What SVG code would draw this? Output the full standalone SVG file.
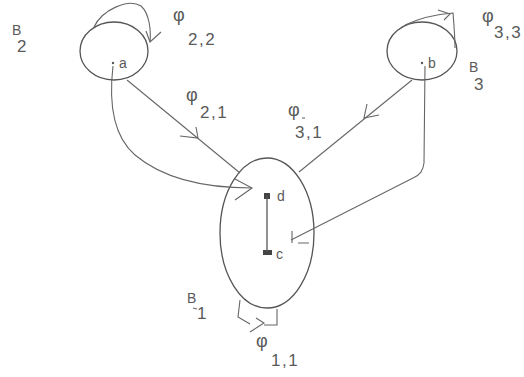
<svg xmlns="http://www.w3.org/2000/svg" width="524" height="377" viewBox="0 0 524 377">
<style>
.n{fill:none;stroke:#555;stroke-width:1.3}
.e{fill:none;stroke:#666;stroke-width:1.1}
.t{font-family:"Liberation Sans",Arial,sans-serif;fill:#5a5a5a;font-size:17px;letter-spacing:1.5px}
.s{font-family:"Liberation Sans",Arial,sans-serif;fill:#5a5a5a;font-size:14px}
.p{font-family:"Liberation Sans",Arial,sans-serif;fill:#5a5a5a;font-size:18px}
</style>
<rect width="524" height="377" fill="#fff"/>
<g id="node-a">
<ellipse class="n" cx="114" cy="51" rx="34" ry="29"/>
<circle cx="113" cy="63" r="1.2" fill="#555"/>
<text class="s" x="119" y="68" font-size="15">a</text>
</g>
<g id="node-b">
<ellipse class="n" cx="422" cy="51" rx="35" ry="29"/>
<circle cx="422" cy="63" r="1.2" fill="#555"/>
<text class="s" x="428" y="68" font-size="16">b</text>
</g>
<g id="node-B1">
<ellipse class="n" cx="267" cy="233" rx="47" ry="75"/>
<rect x="264" y="193" width="6" height="6" fill="#444"/>
<rect x="263" y="250" width="9" height="5" fill="#444"/>
<line class="n" x1="267" y1="196" x2="267" y2="252" stroke-width="1.6"/>
<text class="s" x="277" y="201" font-size="17">d</text>
<text class="s" x="276" y="259" font-size="15">c</text>
</g>
<g id="labels">
<text class="s" x="12" y="35">B</text>
<text class="t" x="17" y="52">2</text>
<text class="p" x="173" y="21">φ</text>
<text class="t" x="188" y="45">2,2</text>
<text class="p" x="186" y="101">φ</text>
<text class="t" x="200" y="118">2,1</text>
<text class="p" x="288" y="116">φ</text>
<line class="e" x1="302" y1="118" x2="305" y2="118"/>
<text class="t" x="295" y="138">3,1</text>
<text class="p" x="482" y="22">φ</text>
<text class="t" x="494" y="38">3,3</text>
<text class="s" x="469" y="72">B</text>
<text class="t" x="474" y="90">3</text>
<text class="s" x="187" y="303">B</text>
<line class="e" x1="193" y1="308" x2="197" y2="309"/>
<text class="t" x="197" y="319">1</text>
<text class="p" x="256" y="347">φ</text>
<text class="t" x="271" y="366">1,1</text>
</g>
<g id="connectors">
<path class="e" d="M94,27 C102,10 128,-2 141,6 C150,14 151,32 150,42"/>
<path class="e" d="M146,31 L150,42 L161,32"/>
<path class="e" d="M405,25 C420,18 440,14 453,13 C454,25 455,40 455,48"/>
<path class="e" d="M438,10 L450,14 L444,20"/>
<line class="e" x1="127" y1="80" x2="240" y2="173"/>
<path class="e" d="M180,136 L198,138 L196,127"/>
<line class="e" x1="412" y1="80" x2="299" y2="172"/>
<path class="e" d="M367,104 L364,118 L379,115"/>
<path class="e" d="M113,66 C109,100 112,135 135,155 C160,176 200,188 252,188"/>
<path class="e" d="M235,179 L252,188 L235,200"/>
<path class="e" d="M425,66 L424,163 C423,171 420,175 413,178 L291,240"/>
<path class="e" d="M292,231 L292,243 M298,243 L309,243"/>
<path class="e" d="M240,300 L238,317 L250,324 M277,309 L277,325 L264,325"/>
<path class="e" d="M256,318 L264,323 L250,332"/>
</g>
</svg>
